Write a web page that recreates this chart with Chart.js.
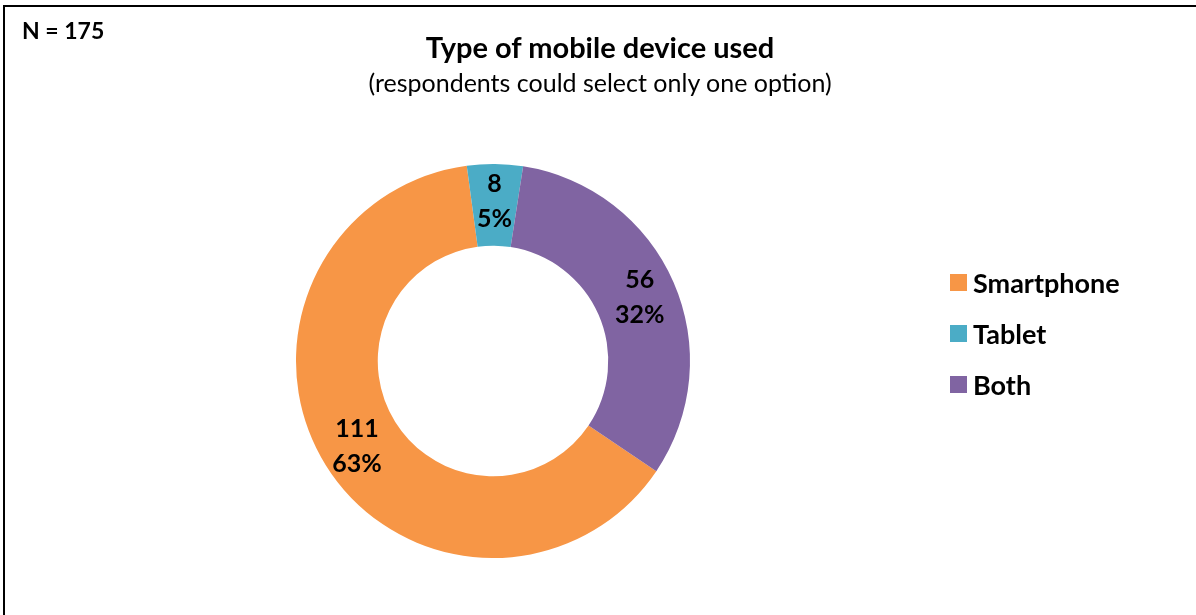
<!DOCTYPE html>
<html>
<head>
<meta charset="utf-8">
<script src="https://cdn.jsdelivr.net/npm/chart.js@4/dist/chart.umd.min.js"></script>
<style>
  body { margin: 0; background: #fff; font-family: Lato, "Open Sans", sans-serif; color: #000; }
  #wrap { position: relative; width: 1196px; height: 615px; overflow: hidden; }
  #chart { position: absolute; left: 0; top: 0; }
  #frame { position: absolute; left: 3px; top: 5px; right: -10px; bottom: -10px;
           border-left: 2px solid #000; border-top: 2px solid #000; }
  #count { position: absolute; left: 22px; top: 19px; font-weight: bold; font-size: 23px; line-height: 1; }
  .head { position: absolute; left: 0; width: 1200px; text-align: center; line-height: 1; white-space: nowrap; }
  #title { top: 32px; font-weight: bold; font-size: 29px; }
  #subtitle { top: 70px; font-size: 25px; }
  #legend { position: absolute; left: 950px; top: 257px; }
  .item { display: flex; align-items: center; height: 51px; }
  .box { width: 17px; height: 17px; margin-right: 6px; }
  .lbl { font-weight: bold; font-size: 27px; line-height: 1; }
</style>
</head>
<body>
<div id="wrap">
  <canvas id="chart" width="1196" height="615"></canvas>
  <div id="frame"></div>
  <div id="count">N = 175</div>
  <div id="title" class="head">Type of mobile device used</div>
  <div id="subtitle" class="head">(respondents could select only one option)</div>
  <div id="legend"></div>
</div>
<script>
const devices = ['Smartphone', 'Tablet', 'Both'];
const counts = [111, 8, 56];
const colors = ['#F79646', '#4BACC6', '#8064A2'];
const total = counts.reduce((a, b) => a + b, 0);

// legend on the right
const legend = document.getElementById('legend');
devices.forEach((name, i) => {
  const row = document.createElement('div');
  row.className = 'item';
  row.innerHTML = '<span class="box" style="background:' + colors[i] + '"></span><span class="lbl">' + name + '</span>';
  legend.appendChild(row);
});

// count + percentage written inside each ring segment
const sliceLabels = {
  id: 'sliceLabels',
  afterDatasetsDraw(chart) {
    const ctx = chart.ctx;
    const meta = chart.getDatasetMeta(0);
    ctx.save();
    ctx.font = 'bold 25px Lato';
    ctx.fillStyle = '#000';
    ctx.textAlign = 'center';
    ctx.textBaseline = 'middle';
    meta.data.forEach((arc, i) => {
      const a = arc.getProps(['x', 'y', 'startAngle', 'endAngle', 'innerRadius', 'outerRadius']);
      const mid = (a.startAngle + a.endAngle) / 2;
      const r = (a.innerRadius + a.outerRadius) / 2 + 4;
      const x = a.x + Math.cos(mid) * r;
      const y = a.y + Math.sin(mid) * r;
      const v = chart.data.datasets[0].data[i];
      ctx.fillText(String(v), x, y - 17);
      ctx.fillText(Math.round(v / total * 100) + '%', x, y + 18);
    });
    ctx.restore();
  }
};

new Chart(document.getElementById('chart').getContext('2d'), {
  type: 'doughnut',
  data: {
    labels: devices,
    datasets: [{
      data: counts,
      backgroundColor: colors,
      borderWidth: 0
    }]
  },
  options: {
    responsive: false,
    animation: false,
    rotation: 124,
    cutout: '58.5%',
    layout: { padding: { left: 0, right: 210, top: 164, bottom: 57 } },
    plugins: {
      legend: { display: false },
      tooltip: { enabled: false }
    }
  },
  plugins: [sliceLabels]
});
</script>
</body>
</html>
